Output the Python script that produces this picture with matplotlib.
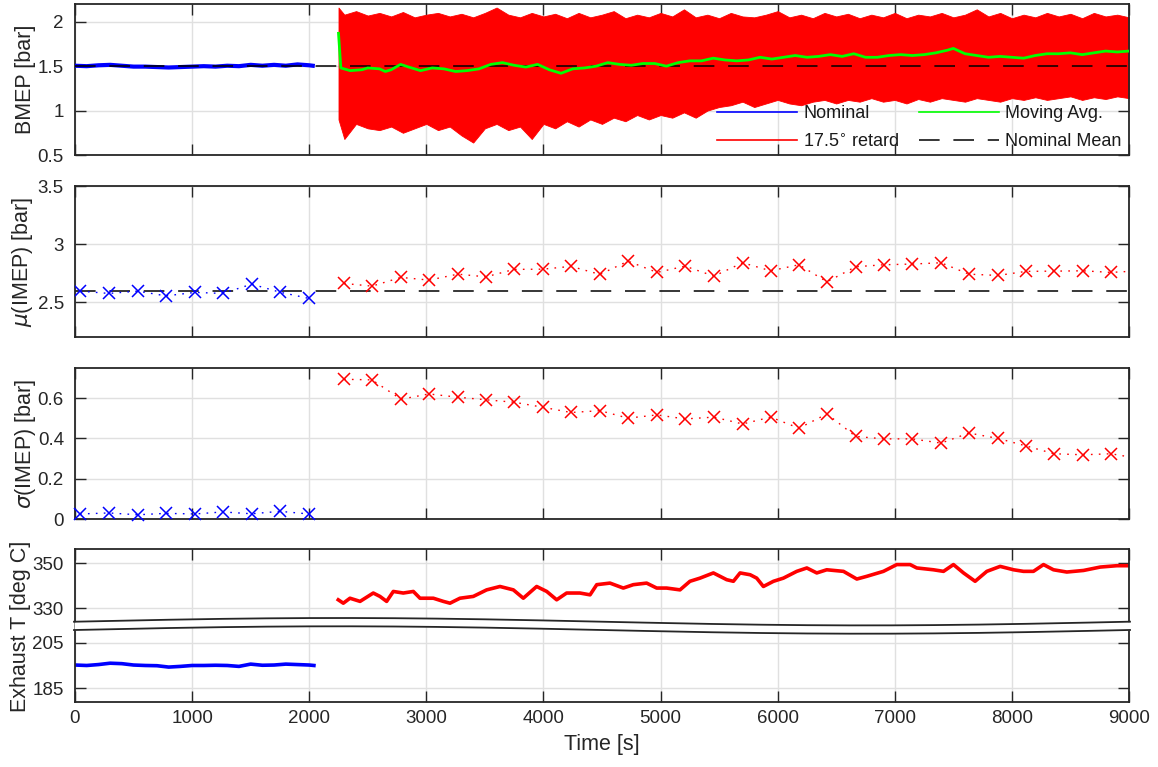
import numpy as np
import matplotlib
matplotlib.use("Agg")
import matplotlib.pyplot as plt
from matplotlib.lines import Line2D

plt.rcParams['font.family'] = ['Liberation Sans', 'DejaVu Sans']
plt.rcParams['mathtext.fontset'] = 'dejavusans'

# ---------------- data ----------------
# BMEP nominal (blue)
bmep_nom_t = [0, 100, 200, 300, 400, 500, 600, 700, 800, 900, 1000, 1100, 1200, 1300, 1400,
              1500, 1600, 1700, 1800, 1900, 2000, 2030]
bmep_nom_v = [1.505, 1.50, 1.51, 1.515, 1.505, 1.495, 1.495, 1.49, 1.485, 1.49, 1.495, 1.50,
              1.495, 1.505, 1.50, 1.515, 1.505, 1.515, 1.505, 1.52, 1.51, 1.505]

# BMEP retarded (red) envelope of the cycle-to-cycle scatter
bmep_ret_t = [2250, 2300, 2400, 2500, 2600, 2700, 2800, 2900, 3000, 3100, 3200, 3300, 3400,
              3500, 3600, 3700, 3800, 3900, 4000, 4100, 4200, 4300, 4400, 4500, 4600, 4700,
              4800, 4900, 5000, 5100, 5200, 5300, 5400, 5500, 5600, 5700, 5800, 5900, 6000,
              6100, 6200, 6300, 6400, 6500, 6600, 6700, 6800, 6900, 7000, 7100, 7200, 7300,
              7400, 7500, 7600, 7700, 7800, 7900, 8000, 8100, 8200, 8300, 8400, 8500, 8600,
              8700, 8800, 8900, 9000]
bmep_ret_hi = [2.16, 2.08, 2.12, 2.07, 2.10, 2.06, 2.11, 2.05, 2.08, 2.10, 2.06, 2.09, 2.05,
               2.10, 2.16, 2.08, 2.05, 2.10, 2.06, 2.09, 2.04, 2.10, 2.05, 2.08, 2.12, 2.04,
               2.08, 2.05, 2.10, 2.06, 2.14, 2.05, 2.08, 2.04, 2.10, 2.06, 2.05, 2.08, 2.12,
               2.05, 2.08, 2.04, 2.10, 2.06, 2.09, 2.04, 2.08, 2.05, 2.10, 2.04, 2.08, 2.06,
               2.10, 2.05, 2.08, 2.14, 2.06, 2.10, 2.04, 2.08, 2.05, 2.10, 2.06, 2.09, 2.04,
               2.10, 2.06, 2.08, 2.05]
bmep_ret_lo = [0.90, 0.68, 0.85, 0.80, 0.78, 0.82, 0.75, 0.80, 0.85, 0.78, 0.82, 0.72, 0.64,
               0.80, 0.85, 0.78, 0.82, 0.68, 0.85, 0.80, 0.88, 0.82, 0.90, 0.85, 0.92, 0.88,
               0.95, 0.90, 0.95, 0.92, 0.98, 0.92, 1.00, 1.04, 1.06, 1.10, 1.04, 1.08, 1.12,
               1.08, 1.06, 1.10, 1.12, 1.08, 1.12, 1.10, 1.14, 1.10, 1.12, 1.08, 1.13, 1.10,
               1.14, 1.12, 1.10, 1.14, 1.12, 1.10, 1.14, 1.12, 1.15, 1.12, 1.14, 1.16, 1.12,
               1.15, 1.13, 1.16, 1.14]

# moving average (green)
mavg_t = [2250, 2270, 2350, 2450, 2500, 2600, 2650, 2700, 2780, 2850, 2950, 3050, 3150, 3250,
          3350, 3450, 3550, 3650, 3750, 3850, 3950, 4050, 4150, 4250, 4350, 4450, 4550, 4650,
          4750, 4850, 4950, 5050, 5150, 5250, 5350, 5450, 5550, 5650, 5750, 5850, 5950, 6050,
          6150, 6250, 6350, 6450, 6550, 6650, 6750, 6850, 6950, 7050, 7150, 7250, 7350, 7450,
          7500, 7600, 7700, 7800, 7900, 8000, 8100, 8200, 8300, 8400, 8500, 8600, 8700, 8800,
          8900, 9000]
mavg_v = [1.87, 1.48, 1.45, 1.46, 1.48, 1.47, 1.44, 1.46, 1.52, 1.49, 1.45, 1.48, 1.47, 1.44,
          1.45, 1.47, 1.52, 1.54, 1.51, 1.49, 1.52, 1.46, 1.42, 1.47, 1.48, 1.50, 1.54, 1.52,
          1.51, 1.53, 1.53, 1.50, 1.54, 1.56, 1.56, 1.59, 1.57, 1.56, 1.57, 1.60, 1.58, 1.60,
          1.62, 1.60, 1.61, 1.63, 1.61, 1.64, 1.60, 1.60, 1.62, 1.63, 1.62, 1.63, 1.65, 1.68,
          1.70, 1.64, 1.62, 1.60, 1.61, 1.60, 1.59, 1.62, 1.64, 1.64, 1.65, 1.63, 1.65, 1.67,
          1.66, 1.67]
bmep_nominal_mean = 1.5

# mean / std of IMEP per block
blk_nom_t = [43, 290, 535, 777, 1025, 1261, 1509, 1750, 1998]
mu_nom = [2.595, 2.575, 2.595, 2.554, 2.584, 2.575, 2.655, 2.586, 2.532]
sd_nom = [0.025, 0.030, 0.021, 0.028, 0.025, 0.035, 0.026, 0.038, 0.025]

blk_ret_t = [2297, 2536, 2784, 3023, 3270, 3510, 3749, 3996, 4235, 4483, 4722, 4970, 5209,
             5456, 5701, 5940, 6182, 6421, 6666, 6908, 7147, 7395, 7634, 7882, 8121, 8360,
             8607, 8846, 9090]
mu_ret = [2.661, 2.638, 2.713, 2.690, 2.741, 2.718, 2.782, 2.784, 2.808, 2.739, 2.853, 2.756,
          2.810, 2.724, 2.839, 2.770, 2.822, 2.675, 2.805, 2.822, 2.828, 2.839, 2.741, 2.730,
          2.765, 2.767, 2.770, 2.756, 2.770]
sd_ret = [0.694, 0.691, 0.595, 0.621, 0.605, 0.592, 0.580, 0.555, 0.529, 0.538, 0.501, 0.517,
          0.497, 0.506, 0.472, 0.506, 0.451, 0.522, 0.410, 0.398, 0.398, 0.377, 0.427, 0.400,
          0.363, 0.324, 0.319, 0.324, 0.300]
imep_nominal_mean = 2.6

# exhaust temperature
exh_nom_t = [0, 100, 200, 300, 400, 500, 600, 700, 800, 900, 1000, 1100, 1200, 1300, 1400,
             1500, 1600, 1700, 1800, 1900, 2000, 2040]
exh_nom_v = [195.2, 195.0, 195.4, 196.0, 195.8, 195.2, 195.0, 194.9, 194.3, 194.6, 195.0,
             195.0, 195.1, 195.0, 194.6, 195.6, 195.1, 195.2, 195.6, 195.4, 195.2, 195.0]
exh_ret_t = [2248, 2291, 2348, 2434, 2547, 2604, 2661, 2718, 2803, 2889, 2946, 3060, 3145,
             3202, 3287, 3401, 3515, 3629, 3743, 3828, 3942, 4028, 4113, 4198, 4312, 4398,
             4455, 4568, 4682, 4767, 4881, 4967, 5052, 5166, 5251, 5337, 5451, 5565, 5622,
             5679, 5765, 5821, 5878, 5964, 6049, 6163, 6249, 6334, 6419, 6562, 6676, 6761,
             6903, 7017, 7131, 7188, 7330, 7416, 7501, 7587, 7686, 7786, 7900, 8014, 8099,
             8184, 8270, 8355, 8469, 8612, 8754, 8896, 8996]
exh_ret_v = [333.7, 332.2, 334.4, 333.0, 336.7, 335.2, 333.0, 337.4, 336.7, 337.4, 334.4,
             334.4, 333.0, 332.2, 334.4, 335.2, 338.1, 339.6, 338.1, 334.4, 339.6, 337.4,
             333.7, 336.7, 336.7, 335.9, 340.4, 341.1, 338.9, 340.4, 341.1, 338.9, 338.9,
             338.1, 341.9, 343.3, 345.6, 342.6, 341.9, 345.6, 344.8, 343.3, 339.6, 341.9,
             343.3, 346.3, 347.8, 345.6, 347.0, 346.3, 342.9, 344.1, 346.3, 349.3, 349.3,
             347.8, 347.0, 346.3, 349.3, 345.6, 341.9, 346.3, 348.5, 347.0, 346.3, 346.3,
             349.3, 347.0, 346.0, 346.7, 348.2, 348.8, 348.8]

xticks = [0, 1000, 2000, 3000, 4000, 5000, 6000, 7000, 8000, 9000]

# ---------------- figure ----------------
W, H = 1158, 767
fig = plt.figure(figsize=(W / 100, H / 100), dpi=100)

AX_COL = '#262626'
GRID_COL = '#e0e0e0'
FS = 13.5      # tick labels
FL = 15.5      # axis labels
FG = 13.0      # legend
BLUE, RED, GREEN = '#0000ff', '#ff0000', '#00ff00'


def px_axes(top, bottom, left=75, right=1129):
    return fig.add_axes([left / W, 1 - bottom / H, (right - left) / W, (bottom - top) / H])


def style(ax, yticks, ylim, xlabels=False, top=True, bottom=True):
    ax.set_xlim(0, 9000)
    ax.set_ylim(*ylim)
    ax.set_xticks(xticks)
    ax.set_yticks(yticks)
    ax.grid(True, color=GRID_COL, lw=1.0)
    ax.set_axisbelow(True)
    ax.tick_params(direction='in', length=8, width=1.0, colors=AX_COL, labelsize=FS,
                   top=top, bottom=bottom, left=True, right=True, labelbottom=xlabels)
    ax.tick_params(axis='y', pad=8)
    ax.tick_params(axis='x', pad=6)
    for s in ax.spines.values():
        s.set_color(AX_COL)
        s.set_linewidth(1.3)
    ax.spines['top'].set_visible(top)
    ax.spines['bottom'].set_visible(bottom)


dot = (0, (1.2, 4.5))
dash_style = (0, (13.5, 9.0))
MS = 8

# Panel 1 : BMEP
ax1 = px_axes(4, 155)
style(ax1, [0.5, 1, 1.5, 2], (0.5, 2.2))
ax1.set_yticklabels(['0.5', '1', '1.5', '2'])
ax1.plot(bmep_nom_t, bmep_nom_v, color=BLUE, lw=3.0, zorder=3)
ax1.fill_between(bmep_ret_t, bmep_ret_lo, bmep_ret_hi, color=RED, lw=0.6, edgecolor=RED, zorder=2)
ax1.plot([0, 9000], [bmep_nominal_mean] * 2, color='k', lw=1.1, ls=dash_style, zorder=4)
ax1.plot(mavg_t, mavg_v, color=GREEN, lw=2.0, zorder=5)
ax1.set_ylabel('BMEP [bar]', fontsize=FL, color=AX_COL)
ax1.yaxis.set_label_coords(-0.037, 0.5)

handles = [Line2D([], [], color=BLUE, lw=1.2), Line2D([], [], color=RED, lw=1.2),
           Line2D([], [], color=GREEN, lw=1.2), Line2D([], [], color='k', lw=1.1, ls=dash_style)]
labels = ['Nominal', r'17.5$^{\circ}$ retard', 'Moving Avg.', 'Nominal Mean']
leg = ax1.legend(handles, labels, ncol=2, loc='lower right', bbox_to_anchor=(1.0, -0.02),
                 frameon=False, fontsize=FG, handlelength=4.43, handletextpad=0.33,
                 columnspacing=1.1, labelspacing=0.62, borderaxespad=0.0)
for t in leg.get_texts():
    t.set_color('#1a1a1a')
leg.set_zorder(10)

# Panel 2 : mu(IMEP)
ax2 = px_axes(186, 337)
style(ax2, [2.5, 3, 3.5], (2.2, 3.5))
ax2.set_yticklabels(['2.5', '3', '3.5'])
ax2.plot([0, 9000], [imep_nominal_mean] * 2, color='k', lw=1.1, ls=dash_style, zorder=2)
ax2.plot(blk_nom_t, mu_nom, color=BLUE, ls=dot, lw=1.0, marker='x', ms=MS, mew=1.1, zorder=3)
ax2.plot(blk_ret_t, mu_ret, color=RED, ls=dot, lw=1.0, marker='x', ms=MS, mew=1.1, zorder=3)
ax2.set_ylabel(r'$\mu$(IMEP) [bar]', fontsize=FL, color=AX_COL)
ax2.yaxis.set_label_coords(-0.038, 0.5)

# Panel 3 : sigma(IMEP)
ax3 = px_axes(368, 519)
style(ax3, [0, 0.2, 0.4, 0.6], (0, 0.75))
ax3.set_yticklabels(['0', '0.2', '0.4', '0.6'])
ax3.plot(blk_nom_t, sd_nom, color=BLUE, ls=dot, lw=1.0, marker='x', ms=MS, mew=1.1,
         zorder=3, clip_on=False)
ax3.plot(blk_ret_t, sd_ret, color=RED, ls=dot, lw=1.0, marker='x', ms=MS, mew=1.1, zorder=3)
ax3.set_ylabel(r'$\sigma$(IMEP) [bar]', fontsize=FL, color=AX_COL)
ax3.yaxis.set_label_coords(-0.035, 0.5)

# Panel 4 : exhaust temperature (broken axis)
ax4a = px_axes(549, 626)
style(ax4a, [330, 350], (322.1, 356.2), bottom=False)
ax4a.plot(exh_ret_t, exh_ret_v, color=RED, lw=2.6)
ax4b = px_axes(626, 702)
style(ax4b, [185, 205], (179.0, 212.3), xlabels=True, top=False)
ax4b.plot(exh_nom_t, exh_nom_v, color=BLUE, lw=2.6)
ax4b.set_xticklabels([str(v) for v in xticks])
ax4b.set_xlabel('Time [s]', fontsize=FL, color=AX_COL, labelpad=5)
fig.text(21 / W, 1 - 626 / H, 'Exhaust T [deg C]', rotation=90, fontsize=FL, color=AX_COL,
         ha='center', va='center')

# break marks (decoration)
ov = fig.add_axes([0, 0, 1, 1], zorder=20)
ov.set_xlim(0, W)
ov.set_ylim(H, 0)
ov.axis('off')
ov.patch.set_alpha(0)
xs = np.linspace(74, 1130, 400)
wave = 3.7 * np.sin(2 * np.pi * (xs - 75) / 1054)
y_up = 621.7 - wave
y_lo = 630.0 - wave
ov.fill_between(xs, y_up, y_lo, color='white', lw=0)
ov.plot(xs, y_up, color=AX_COL, lw=1.3)
ov.plot(xs, y_lo, color=AX_COL, lw=1.3)

fig.savefig('out.png', dpi=100)
